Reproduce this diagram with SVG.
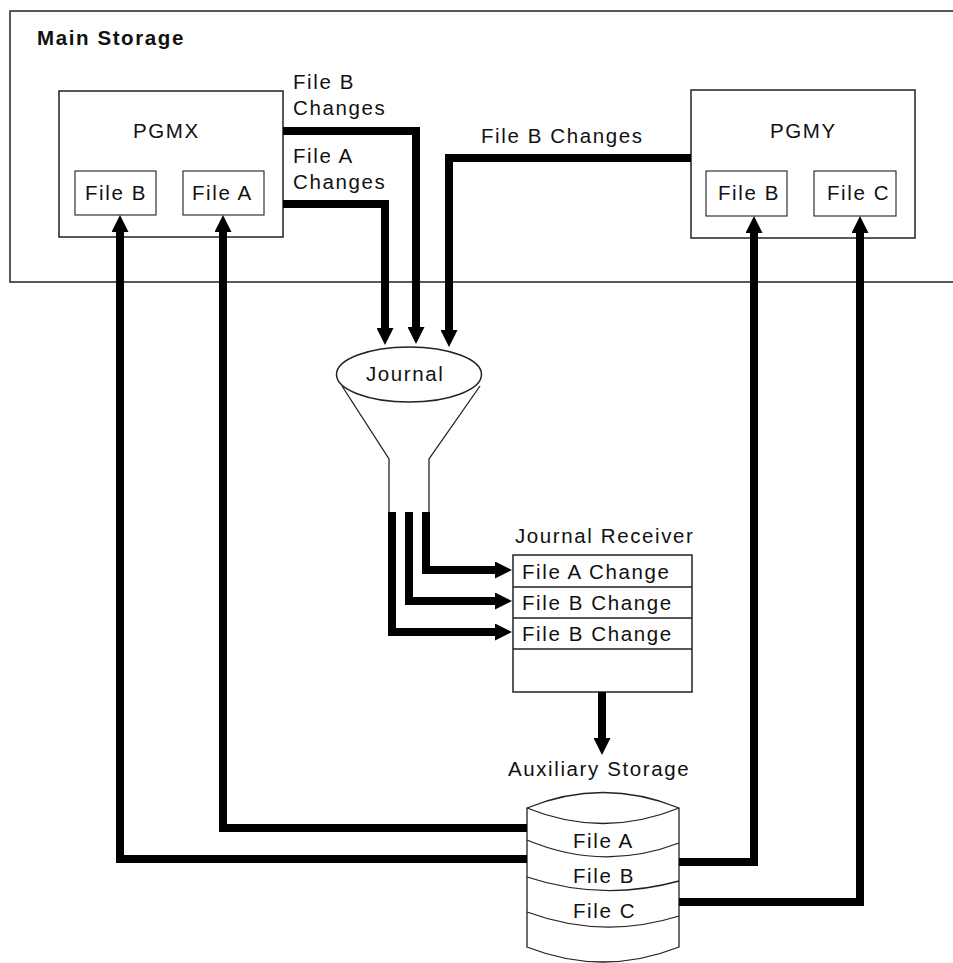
<svg xmlns="http://www.w3.org/2000/svg" width="953" height="963" viewBox="0 0 953 963">
<style>
text{font-family:"Liberation Sans",Arial,sans-serif;font-size:20.5px;fill:#111;letter-spacing:1.6px}
.bold{font-weight:bold}
.box{fill:#fff;stroke:#222;stroke-width:1.5}
.inner{fill:#fff;stroke:#333;stroke-width:1.2}
.thin{fill:none;stroke:#222;stroke-width:1.3}
.conn{fill:none;stroke:#000;stroke-width:8;stroke-linejoin:miter}
</style>
<defs>
<marker id="ah" markerUnits="userSpaceOnUse" viewBox="0 0 17 17" refX="0" refY="8.5" markerWidth="17" markerHeight="17" orient="auto">
<path d="M0,0 L17,8.5 L0,17 Z" fill="#000"/>
</marker>
</defs>
<rect width="953" height="963" fill="#fff"/>
<g id="main-storage">
<rect x="10" y="11" width="960" height="271" class="box" fill="none"/>
<text x="37" y="45" class="bold">Main Storage</text>
</g>
<g id="pgmx">
<rect x="59" y="91" width="224" height="146" class="box"/>
<text x="133" y="138">PGMX</text>
</g>
<g id="pgmx-fileb">
<rect x="75" y="171" width="81" height="44" class="inner"/>
<text x="85" y="200">File B</text>
</g>
<g id="pgmx-filea">
<rect x="183" y="171" width="81" height="44" class="inner"/>
<text x="192" y="200">File A</text>
</g>
<g id="pgmy">
<rect x="691" y="90" width="224" height="148" class="box"/>
<text x="770" y="138">PGMY</text>
</g>
<g id="pgmy-fileb">
<rect x="706" y="171" width="81" height="45" class="inner"/>
<text x="718" y="200">File B</text>
</g>
<g id="pgmy-filec">
<rect x="814" y="171" width="82" height="45" class="inner"/>
<text x="827" y="200">File C</text>
</g>
<g id="journal">
<path d="M342,386 L389,459 V512 M480,386 L429,459 V512" class="thin"/>
<ellipse cx="409" cy="374.5" rx="72.5" ry="27.5" class="box" stroke-width="1.3"/>
<text x="366" y="381">Journal</text>
</g>
<g id="journal-receiver">
<text x="515" y="543">Journal Receiver</text>
<rect x="513" y="555" width="179" height="137" class="box"/>
<path d="M513,587 H692 M513,618 H692 M513,649 H692" class="thin" stroke-width="1"/>
<text x="522" y="579">File A Change</text>
<text x="522" y="610">File B Change</text>
<text x="522" y="641">File B Change</text>
</g>
<g id="auxiliary-storage">
<text x="508" y="776">Auxiliary Storage</text>
<path d="M527,808 Q603,777 679,808 V947 Q603,977 527,947 Z" fill="#fff" stroke="#222" stroke-width="1.3"/>
<path d="M527,808 Q603,839 679,808 M527,840 Q603,872 679,843 M527,877 Q603,902 679,881 M527,912 Q603,940 679,916" class="thin" stroke-width="1.1"/>
<text x="573" y="848">File A</text>
<text x="573" y="883">File B</text>
<text x="573" y="918">File C</text>
</g>
<g id="connectors">
<path d="M283,131 H416 V327" class="conn" marker-end="url(#ah)"/>
<path d="M283,204 H385 V328" class="conn" marker-end="url(#ah)"/>
<path d="M691,158 H449 V330" class="conn" marker-end="url(#ah)"/>
<path d="M426,512 V570 H495" class="conn" marker-end="url(#ah)"/>
<path d="M409,512 V601 H495" class="conn" marker-end="url(#ah)"/>
<path d="M392,512 V632 H495" class="conn" marker-end="url(#ah)"/>
<path d="M602,692 V738" class="conn" marker-end="url(#ah)"/>
<path d="M527,828 H223 V232" class="conn" marker-end="url(#ah)"/>
<path d="M527,859 H120 V232" class="conn" marker-end="url(#ah)"/>
<path d="M679,862 H754 V233" class="conn" marker-end="url(#ah)"/>
<path d="M679,902 H860 V233" class="conn" marker-end="url(#ah)"/>
<text x="293" y="89">File B</text>
<text x="293" y="115">Changes</text>
<text x="293" y="163">File A</text>
<text x="293" y="189">Changes</text>
<text x="481" y="143">File B Changes</text>
</g>
</svg>
